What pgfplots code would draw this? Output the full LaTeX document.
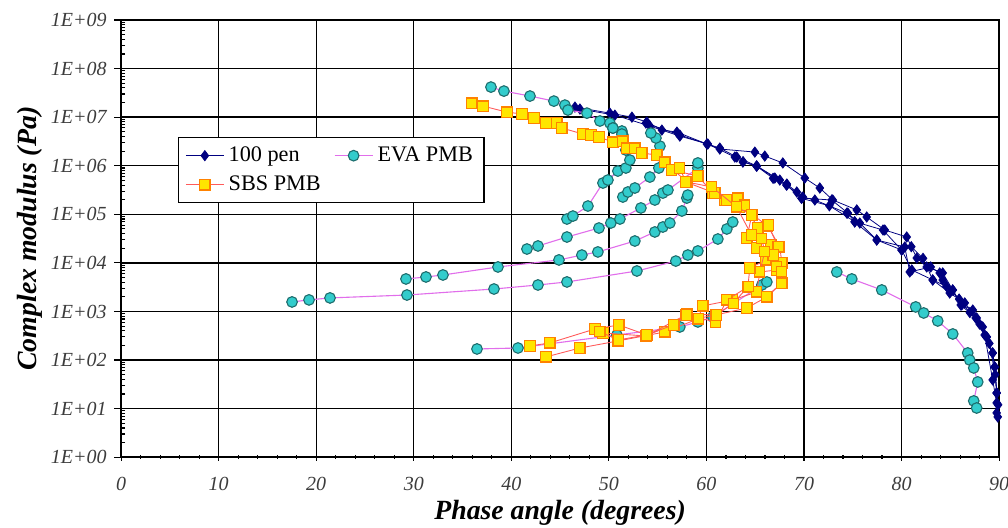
\documentclass[border=0pt]{standalone}
\usepackage{fontspec}
\setmainfont{Liberation Serif}
\usepackage{pgfplots}
\pgfplotsset{compat=1.18}

\definecolor{pen}{RGB}{0,0,128}
\definecolor{evafill}{RGB}{51,204,204}
\definecolor{evaedge}{RGB}{30,110,110}
\definecolor{evaline}{RGB}{225,110,235}
\definecolor{sbsfill}{RGB}{255,230,0}
\definecolor{sbsedge}{RGB}{255,130,0}
\definecolor{sbsline}{RGB}{255,90,90}
\definecolor{ticktext}{RGB}{60,60,60}

\pgfplotsset{
  penst/.style={color=pen, line width=0.35pt, mark=diamond*, mark size=2.3pt,
    mark options={solid, draw=pen, fill=pen}},
  evast/.style={color=evaline, line width=0.5pt, mark=*, mark size=2.4pt,
    mark options={solid, draw=evaedge, fill=evafill, line width=0.5pt}},
  sbsst/.style={color=sbsline, line width=0.4pt, mark=square*, mark size=2.3pt,
    mark options={solid, draw=sbsedge, fill=sbsfill, line width=0.5pt}},
}

\begin{document}
\begin{tikzpicture}
\begin{axis}[
  scale only axis,
  width=395pt, height=196.7pt,
  xmin=0, xmax=90,
  ymode=log, ymin=1, ymax=1e9,
  xtick={0,10,20,30,40,50,60,70,80,90},
  xticklabels={0,10,20,30,40,50,60,70,80,90},
  ytick={1,1e1,1e2,1e3,1e4,1e5,1e6,1e7,1e8,1e9},
  yticklabels={1E+00,1E+01,1E+02,1E+03,1E+04,1E+05,1E+06,1E+07,1E+08,1E+09},
  minor x tick num=4,
  yminorticks=true,
  tick pos=left,
  xtick align=center,
  ytick align=outside,
  major tick length=3pt,
  minor tick length=-1.8pt,
  tick style={black, line width=0.5pt},
  grid=major,
  major grid style={black, line width=0.6pt},
  axis line style={black, line width=0.7pt},
  ticklabel style={font=\fontsize{9}{11}\selectfont\itshape, text=ticktext},
  xticklabel style={yshift=-4pt},
  xlabel={Phase angle (degrees)},
  ylabel={Complex modulus (Pa)},
  label style={font=\fontsize{12.5}{15}\selectfont\bfseries\itshape},
  xlabel style={at={(axis description cs:0.5,-0.127)}, anchor=center},
  ylabel style={at={(axis description cs:-0.104,0.5)}, anchor=center},
  legend columns=2,
  legend cell align=left,
  legend style={at={(axis description cs:0.065,0.732)}, anchor=north west,
    draw=black, line width=0.5pt, fill=white,
    font=\fontsize{10}{12}\selectfont, row sep=1pt,
    inner xsep=3pt, inner ysep=2pt,
    /tikz/every even column/.append style={column sep=4pt}},
  clip mode=individual,
]
% 100 pen
\addplot[penst] coordinates {
(46.52,1.61e7)(50.10,1.21e7)(52.36,1.00e7)(53.89,7.93e6)(55.43,5.43e6)(56.97,4.93e6)
(60.04,2.80e6)(61.37,2.21e6)(64.96,1.91e6)(65.98,1.58e6)(67.83,1.14e6)(70.08,5.58e5)
(71.62,3.48e5)(72.95,1.97e5)(75.41,1.23e5)(76.43,8.80e4)(78.28,4.75e4)(80.53,3.41e4)
(81.56,1.26e4)(82.58,8.24e3)(84.22,6.20e3)(85.25,2.77e3)(86.17,1.36e3)(87.30,1.07e3)
(88.32,4.80e2)(88.73,2.99e2)(89.34,1.40e2)(89.55,7.21e1)(89.75,2.10e1)(89.86,6.75)};
\addlegendentry{100 pen}
\addplot[penst, forget plot] coordinates {
(47.03,1.47e7)(50.61,1.10e7)(54.20,6.56e6)(57.27,4.08e6)(60.14,2.80e6)(62.91,1.51e6)
(63.73,1.19e6)(65.16,9.86e5)(67.01,5.58e5)(68.24,4.20e5)(69.26,2.88e5)(69.88,2.27e5)
(71.11,1.97e5)(74.39,1.06e5)(75.72,6.62e4)(77.46,2.96e4)(80.02,1.84e4)(81.05,7.14e3)
(83.20,4.45e3)(84.94,2.40e3)(86.48,1.50e3)(87.70,7.35e2)(88.52,3.28e2)(89.34,3.90e1)
(89.75,1.31e1)(89.75,8.16)};
\addplot[penst, forget plot] coordinates {
(53.79,7.56e6)(57.27,4.28e6)(61.37,2.31e6)(63.11,1.51e6)(65.16,9.86e5)(67.52,5.08e5)
(68.24,4.01e5)(69.77,2.16e5)(72.85,1.97e5)(74.49,1.06e5)(75.20,6.94e4)(77.46,2.96e4)
(80.33,2.12e4)(80.84,6.50e3)(82.99,8.24e3)(83.91,6.20e3)(84.22,4.45e3)(85.25,2.77e3)
(86.07,1.36e3)(87.60,7.35e2)(88.73,2.99e2)(89.34,1.40e2)(89.55,7.21e1)(89.75,2.10e1)};
\addplot[penst, forget plot] coordinates {
(63.76,1.21e6)(65.13,9.86e5)(66.83,5.50e5)(68.20,4.00e5)(69.74,2.13e5)(72.60,1.50e5)
(75.20,7.05e4)(78.10,4.75e4)(80.00,1.84e4)(81.00,2.15e4)(82.20,1.24e4)(83.20,4.45e3)
(84.60,3.30e3)(85.90,1.80e3)(87.00,9.50e2)(88.00,5.50e2)(89.00,2.20e2)(89.60,5.00e1)
(89.90,1.20e1)};
% EVA PMB
\addplot[evast] coordinates {
(37.91,4.16e7)(39.24,3.44e7)(41.91,2.72e7)(44.36,2.14e7)(45.49,1.77e7)(45.80,1.40e7)
(47.75,1.21e7)(49.08,8.32e6)(50.10,7.56e6)(50.41,5.97e6)(51.33,5.18e6)(51.43,4.28e6)};
\addlegendentry{EVA PMB}
\addplot[evast, forget plot] coordinates {
(17.52,1.57e3)(19.26,1.73e3)(21.41,1.90e3)(29.30,2.18e3)(38.22,2.90e3)(42.73,3.51e3)
(45.70,4.05e3)(52.87,6.81e3)(56.86,1.09e4)(58.09,1.45e4)(59.12,1.76e4)(61.17,3.10e4)
(62.09,4.99e4)(62.70,6.94e4)};
\addplot[evast, forget plot] coordinates {
(29.20,4.67e3)(31.25,5.13e3)(32.99,5.64e3)(38.63,8.24e3)(44.88,1.15e4)(47.23,1.45e4)
(48.87,1.68e4)(52.66,2.82e4)(54.71,4.33e4)(55.53,5.48e4)(56.25,6.62e4)(57.48,1.17e5)
(57.99,2.16e5)(58.09,2.49e5)};
\addplot[evast, forget plot] coordinates {
(41.60,1.93e4)(42.73,2.23e4)(45.70,3.41e4)(48.98,5.22e4)(50.20,6.62e4)(51.13,8.00e4)
(53.28,1.35e5)(54.71,1.97e5)(55.53,2.74e5)(56.05,3.16e5)(59.12,8.97e5)(59.12,1.14e6)};
\addplot[evast, forget plot] coordinates {
(45.70,8.00e4)(46.31,9.20e4)(47.85,1.48e5)(49.39,4.41e5)(49.90,5.08e5)(50.92,7.78e5)
(51.74,8.97e5)(52.15,1.31e6)(51.74,2.10e6)(51.33,4.49e6)(50.41,5.97e6)};
\addplot[evast, forget plot] coordinates {
(51.43,2.27e5)(51.95,2.88e5)(52.66,3.48e5)(54.20,5.85e5)(55.12,8.97e5)(55.23,2.54e6)
(54.82,3.72e6)(54.30,4.71e6)};
\addplot[evast, forget plot] coordinates {
(36.48,1.69e2)(40.68,1.77e2)(50.82,3.28e2)(57.27,4.80e2)(59.12,6.08e2)(60.66,7.71e2)
(65.68,3.51e3)(66.19,4.05e3)};
\addplot[evast, forget plot] coordinates {
(73.36,6.50e3)(74.90,4.67e3)(77.97,2.77e3)(81.45,1.24e3)(82.27,9.31e2)(83.71,6.38e2)
(85.25,3.44e2)(86.78,1.40e2)(86.99,1.00e2)(87.40,6.88e1)(87.81,3.54e1)(87.40,1.44e1)
(87.70,1.03e1)};
% SBS PMB
\addplot[sbsst] coordinates {
(35.96,1.95e7)(37.09,1.69e7)(39.55,1.27e7)(41.09,1.16e7)(42.32,9.58e6)(43.55,7.56e6)
(44.67,7.56e6)(45.18,5.97e6)(47.34,4.49e6)(48.16,4.28e6)(48.98,3.90e6)(50.41,3.07e6)
(51.43,3.22e6)(51.84,2.31e6)(52.66,2.31e6)(53.38,1.83e6)(54.92,1.66e6)(55.74,1.19e6)};
\addlegendentry{SBS PMB}
\addplot[sbsst, forget plot] coordinates {
(55.74,1.19e6)(57.99,4.62e5)(60.55,3.65e5)(61.89,1.97e5)(63.42,1.41e5)(64.75,9.68e4)
(66.29,5.74e4)(67.52,2.12e4)(67.73,9.95e3)(67.73,3.86e3)(66.19,1.99e3)(64.14,1.18e3)
(60.96,8.47e2)(57.99,8.89e2)(56.66,5.27e2)(53.89,3.28e2)(51.02,5.27e2)(48.57,4.36e2)
(43.95,2.25e2)(41.91,1.95e2)};
\addplot[sbsst, forget plot] coordinates {
(56.45,8.16e5)(59.12,6.14e5)(60.66,2.74e5)(63.22,2.16e5)(63.93,1.55e5)(65.27,5.22e4)
(66.60,2.34e4)(66.80,1.45e4)(67.21,7.14e3)(65.47,6.50e3)(65.16,2.52e3)(62.70,1.73e3)
(59.63,1.30e3)(59.12,7.01e2)(55.74,3.79e2)(50.92,2.47e2)(47.03,1.77e2)(43.55,1.16e2)};
\addplot[sbsst, forget plot] coordinates {
(57.27,8.97e5)(57.89,4.62e5)(60.86,2.74e5)(62.09,1.97e5)(63.11,1.41e5)(64.65,9.68e4)
(64.14,3.25e4)(65.16,2.03e4)(66.09,1.15e4)(64.45,7.85e3)(64.24,3.19e3)(62.09,1.73e3)
(60.96,6.08e2)(57.89,8.47e2)(53.79,3.13e2)(49.39,3.61e2)};
\addplot[sbsst, forget plot] coordinates {
(66.32,6.03e4)(67.35,2.15e4)(66.83,1.45e4)(67.18,8.35e3)(67.69,6.59e3)(67.69,3.80e3)
(66.16,2.02e3)(65.13,2.55e3)(64.27,3.24e3)(62.74,1.47e3)(61.03,8.47e2)(59.15,7.24e2)
(57.96,8.47e2)(56.59,5.27e2)(53.86,3.28e2)(50.95,2.59e2)(49.08,3.84e2)};
\addplot[sbsst, forget plot] coordinates {
(60.52,3.70e5)(63.08,1.43e5)(64.62,3.75e4)(65.65,3.21e4)(65.98,1.70e4)(65.47,6.59e3)
(64.45,7.85e3)};
\coordinate (bl) at (rel axis cs:0,0);
\coordinate (tr) at (rel axis cs:1,1);
\end{axis}
\pgfresetboundingbox
\path ([shift={(-54.5pt,-31.5pt)}]bl) rectangle ([shift={(4pt,9pt)}]tr);
\end{tikzpicture}
\end{document}
